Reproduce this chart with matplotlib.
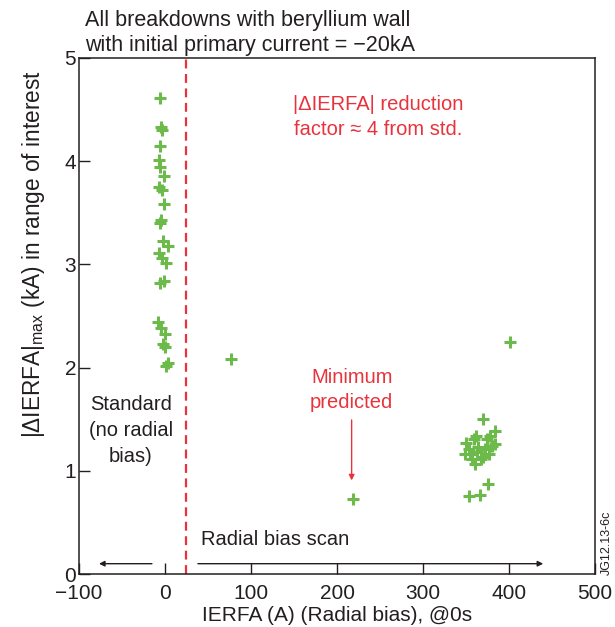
import matplotlib.pyplot as plt
import numpy as np

plt.rcParams['font.family'] = ['Liberation Sans', 'DejaVu Sans']
plt.rcParams['mathtext.fontset'] = 'custom'
plt.rcParams['mathtext.rm'] = 'Liberation Sans'

# standard breakdowns (no radial bias)
std_x = [-6, -5, -3, -6, -7, -6, -1, -7, -3, -1, -5, -6, -2, 4, -7, -3, 1, -6, -1, -8, -5, 0, -2, 0, 3, 1]
std_y = [4.61, 4.33, 4.30, 4.15, 4.01, 3.94, 3.86, 3.75, 3.72, 3.59, 3.43, 3.40, 3.23, 3.18, 3.11, 3.06, 3.01,
         2.82, 2.84, 2.44, 2.38, 2.33, 2.23, 2.20, 2.04, 2.02]

# radial bias scan
scan_x = [77, 219, 401, 370, 362, 384, 378, 374, 350, 359, 384, 380, 364, 354, 372, 349, 355, 363, 377, 370,
          357, 368, 361, 376, 366, 353]
scan_y = [2.08, 0.73, 2.25, 1.50, 1.34, 1.39, 1.34, 1.31, 1.27, 1.31, 1.26, 1.24, 1.23, 1.21, 1.21, 1.16, 1.16,
          1.18, 1.16, 1.13, 1.11, 1.11, 1.07, 0.87, 0.77, 0.76]

green = '#6cbb4a'
red = '#e8333c'
dark = '#231f20'

fig = plt.figure(figsize=(6.15, 6.27), dpi=100)
ax = fig.add_axes([0.1285, 0.0845, 0.839, 0.823])

ax.plot(std_x, std_y, '+', color=green, ms=9, mew=2.2)
ax.plot(scan_x, scan_y, '+', color=green, ms=9, mew=2.2)
ax.axvline(24, color=red, lw=1.6, ls=(0, (4, 2.5)))

ax.set_xlim(-100, 500)
ax.set_ylim(0, 5)
ax.set_xticks(np.arange(-100, 501, 100))
ax.set_yticks(np.arange(0, 6, 1))
ax.set_xticklabels(['\u2212100', '0', '100', '200', '300', '400', '500'])
ax.tick_params(direction='in', length=8, width=1, labelsize=15, colors=dark, top=False, right=False, pad=2)
ax.tick_params(axis='x', pad=7)
for s in ax.spines.values():
    s.set_color(dark)
    s.set_linewidth(1.1)

ax.set_xlabel('IERFA (A) (Radial bias), @0s', fontsize=15, color=dark, labelpad=2)
ax.set_ylabel('|\u0394IERFA|$_\\mathregular{max}$ (kA) in range of interest', fontsize=16.3, color=dark)
ax.yaxis.set_label_coords(-0.062, 0.62)

fig.text(0.138, 0.968, 'All breakdowns with beryllium wall', fontsize=15.5, color=dark, va='center')
fig.text(0.138, 0.928, 'with initial primary current = \u221220kA', fontsize=15.5, color=dark, va='center')

ax.text(248, 4.43, '|\u0394IERFA| reduction\nfactor \u2248 4 from std.', color=red, fontsize=14.5,
        ha='center', va='center', linespacing=1.4)
ax.text(217, 1.78, 'Minimum\npredicted', color=red, fontsize=14.5, ha='center', va='center', linespacing=1.4)
ax.annotate('', xy=(217, 0.88), xytext=(217, 1.52),
            arrowprops=dict(arrowstyle='-|>', color=red, lw=1, mutation_scale=8))
ax.text(-40, 1.39, 'Standard\n(no radial\nbias)', color=dark, fontsize=14.5, ha='center', va='center',
        linespacing=1.45)
ax.text(42, 0.33, 'Radial bias scan', color=dark, fontsize=14.5, ha='left', va='center')
ax.annotate('', xy=(-80, 0.10), xytext=(-12, 0.10),
            arrowprops=dict(arrowstyle='-|>', color=dark, lw=1, mutation_scale=8))
ax.annotate('', xy=(443, 0.10), xytext=(35, 0.10),
            arrowprops=dict(arrowstyle='-|>', color=dark, lw=1, mutation_scale=8))

fig.text(0.987, 0.135, 'JG12.13-6c', fontsize=9, color=dark, rotation=90, ha='center', va='center')

fig.savefig('out.png', dpi=100)
